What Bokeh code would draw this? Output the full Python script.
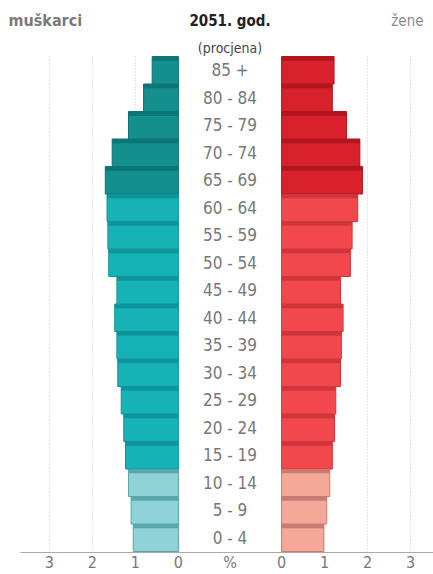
from bokeh.plotting import figure
from bokeh.models import FixedTicker, ColumnDataSource
from bokeh.core.properties import value
from bokeh.embed import file_html
from bokeh.resources import INLINE

# ---- data ----
ages = ["0 - 4", "5 - 9", "10 - 14", "15 - 19", "20 - 24", "25 - 29", "30 - 34",
        "35 - 39", "40 - 44", "45 - 49", "50 - 54", "55 - 59", "60 - 64",
        "65 - 69", "70 - 74", "75 - 79", "80 - 84", "85 +"]
male = [1.05, 1.10, 1.16, 1.23, 1.27, 1.33, 1.41, 1.43, 1.48, 1.43,
        1.62, 1.64, 1.66, 1.70, 1.54, 1.16, 0.81, 0.61]
female = [0.98, 1.05, 1.12, 1.18, 1.23, 1.26, 1.37, 1.39, 1.43, 1.37,
          1.60, 1.64, 1.77, 1.88, 1.82, 1.51, 1.18, 1.22]
groups = ["young"] * 3 + ["work"] * 10 + ["old"] * 5
tick_values = [0, 1, 2, 3]
title_left = "muškarci"
title_right = "žene"
title_main = "2051. god."
subtitle = "(procjena)"

# ---- styles ----
male_fill = {"young": "#8fd2d8", "work": "#17b2b6", "old": "#138f8e"}
male_line = {"young": "#5aa6ab", "work": "#0f9599", "old": "#0d7574"}
female_fill = {"young": "#f5a898", "work": "#f2474d", "old": "#d8212b"}
female_line = {"young": "#c97a72", "work": "#cf363c", "old": "#b0171f"}
FONT = "DejaVu Sans Condensed, sans-serif"

G = 1.2  # half gap between the two halves, in % units
W, H = 433, 574
PX_PER_UNIT = 43.0
CENTER_PX = 229.5
x_start = -CENTER_PX / PX_PER_UNIT
x_end = (W - CENTER_PX) / PX_PER_UNIT
ROW_PX = 27.5
FRAME_H = 552
y_start = -0.5 - 1.0 / ROW_PX
y_end = y_start + FRAME_H / ROW_PX

n = len(ages)
ys = list(range(n))

src = ColumnDataSource(dict(
    y=ys,
    age=ages,
    m_left=[-(G + v) for v in male],
    m_right=[-G] * n,
    f_left=[G] * n,
    f_right=[G + v for v in female],
    m_fill=[male_fill[g] for g in groups],
    m_line=[male_line[g] for g in groups],
    f_fill=[female_fill[g] for g in groups],
    f_line=[female_line[g] for g in groups],
    stripe_y=[y + 0.42 for y in ys],
))

p = figure(width=W, height=H, output_backend="svg", toolbar_location=None,
           x_range=(x_start, x_end), y_range=(y_start, y_end),
           min_border_left=0, min_border_right=0, min_border_top=0,
           min_border_bottom=H - FRAME_H)
p.outline_line_color = None
p.background_fill_color = "white"
p.border_fill_color = "white"
p.ygrid.visible = False
p.xgrid.visible = False
p.yaxis.visible = False

# dotted grid lines
gx = []
for k in tick_values[1:]:
    gx += [-(G + k), G + k]
p.segment(x0=gx, x1=gx, y0=[y_start] * len(gx), y1=[n - 0.45] * len(gx),
          line_color="#c8c8c8", line_dash="1 2", line_width=1)

# bars
p.hbar(y="y", left="m_left", right="m_right", height=1.0, source=src,
       fill_color="m_fill", line_color="m_line", line_width=1)
p.hbar(y="y", left="f_left", right="f_right", height=1.0, source=src,
       fill_color="f_fill", line_color="f_line", line_width=1)
# darker top stripes
p.hbar(y="stripe_y", left="m_left", right="m_right", height=0.14, source=src,
       fill_color="m_line", line_color=None)
p.hbar(y="stripe_y", left="f_left", right="f_right", height=0.14, source=src,
       fill_color="f_line", line_color=None)

# age labels
p.text(x=0, y="y", text="age", source=src, text_align="center",
       text_baseline="middle", text_color="#777777", text_font_size="17px",
       text_font=value(FONT))

# titles
ty = y_end - 20.0 / ROW_PX
p.text(x=[x_start + 8.0 / PX_PER_UNIT], y=[ty], text=[title_left], text_align="left",
       text_baseline="middle", text_color="#7a7a7a", text_font_size="16px",
       text_font_style="bold", text_font=value(FONT))
p.text(x=[x_end - 10.0 / PX_PER_UNIT], y=[ty], text=[title_right], text_align="right",
       text_baseline="middle", text_color="#8a8a8a", text_font_size="15px",
       text_font=value(FONT))
p.text(x=[0], y=[ty], text=[title_main], text_align="center",
       text_baseline="middle", text_color="#222222", text_font_size="15px",
       text_font_style="bold", text_font=value(FONT))
p.text(x=[0], y=[y_end - 47.0 / ROW_PX], text=[subtitle], text_align="center",
       text_baseline="middle", text_color="#444444", text_font_size="14px",
       text_font=value(FONT))

# x axis ticks
ticks = []
overrides = {}
for k in tick_values:
    if k == 0:
        continue
    ticks += [-(G + k), G + k]
    overrides[-(G + k)] = str(k)
    overrides[G + k] = str(k)
ticks += [-G, G, 0.0]
overrides[-G] = "0"
overrides[G] = "0"
overrides[0.0] = "%"
ticks = sorted(ticks)
p.xaxis.ticker = FixedTicker(ticks=ticks)
p.xaxis.major_label_overrides = overrides
p.xaxis.bounds = (x_start + 20.0 / PX_PER_UNIT, x_end)
p.xaxis.axis_line_color = "#aaaaaa"
p.xaxis.major_tick_line_color = None
p.xaxis.minor_tick_line_color = None
p.xaxis.major_tick_out = 0
p.xaxis.major_tick_in = 0
p.xaxis.major_label_text_color = "#777777"
p.xaxis.major_label_text_font_size = "16px"
p.xaxis.major_label_text_font = FONT
p.xaxis.major_label_standoff = 0

open("out.html", "w").write(file_html(p, INLINE))
